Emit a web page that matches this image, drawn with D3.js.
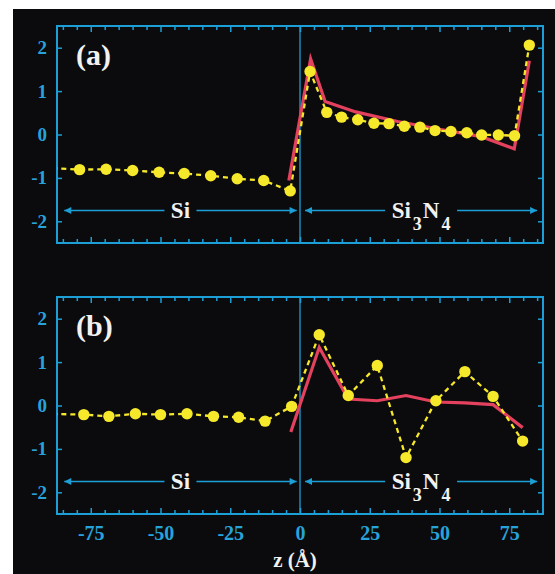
<!DOCTYPE html>
<html>
<head>
<meta charset="utf-8">
<script src="https://cdn.jsdelivr.net/npm/d3@7"></script>
<style>
  body { margin: 0; background: #fff; }
  svg { display: block; }
  svg text { font-family: "Liberation Serif", "Times New Roman", Times, serif !important; font-weight: bold; }
</style>
</head>
<body>
<div id="chart"></div>
<script>
// Axis ticks
const zTicks = [-75, -50, -25, 0, 25, 50, 75];
const yTicks = [-2, -1, 0, 1, 2];

// Panel (a): yellow dots (dashed) and red line
const aDotZ = [-79, -69.5, -60, -50.5, -41.5, -32, -22.5, -13, -3.5,
               3.6, 9.6, 14.9, 20.7, 26.5, 31.9, 37.4, 43, 48.4, 54.1, 59.8, 65.1, 71.1, 76.9, 82.2];
const aDotV = [-0.81, -0.80, -0.83, -0.87, -0.90, -0.95, -1.02, -1.06, -1.30,
               1.45, 0.51, 0.40, 0.34, 0.26, 0.25, 0.19, 0.17, 0.09, 0.07, 0.04, -0.01, -0.01, -0.03, 2.06];
const aEdge = { z: -92, v: -0.76 };   // dashed line runs off the left edge
const aLineZ = [-4, 3.8, 9, 20, 35, 50, 65, 76.8, 82.2];
const aLineV = [-1.06, 1.74, 0.76, 0.52, 0.30, 0.12, -0.05, -0.33, 1.70];

// Panel (b)
const bDotZ = [-77.5, -68.5, -59, -50, -40.5, -31, -22, -12.5, -3,
               6.9, 17.3, 27.7, 38, 48.7, 59.1, 69.2, 79.8];
const bDotV = [-0.21, -0.25, -0.19, -0.21, -0.19, -0.25, -0.27, -0.36, -0.02,
               1.63, 0.23, 0.92, -1.20, 0.11, 0.78, 0.21, -0.82];
const bEdge = { z: -92, v: -0.19 };
const bLineZ = [-3.3, 6.9, 17.3, 27.7, 38, 48.7, 59.1, 69.2, 79.8];
const bLineV = [-0.61, 1.34, 0.15, 0.11, 0.23, 0.08, 0.06, 0.02, -0.51];

// Region arrows (z extents) and labels
const regions = [
    { name: 'Si', sub: [], from: -84.5, to: -1.2 },
    { name: 'Si3N4', sub: ['Si', '3', 'N', '4'], from: 1.8, to: 85 }
];

const W = 555, H = 574;
const CYAN = '#1c9fd6', LABEL = '#27a3dc', YELLOW = '#f6e82a', RED = '#e3415e';
const SERIF = '"Liberation Serif", "Times New Roman", serif';

const svg = d3.select('#chart').append('svg')
    .attr('width', W)
    .attr('height', H);

svg.append('rect')
    .attr('x', 13).attr('y', 9)
    .attr('width', W - 13).attr('height', H - 9)
    .attr('fill', '#0b0b0d');

const defs = svg.append('defs');
defs.append('marker')
    .attr('id', 'arrow')
    .attr('viewBox', '0 0 10 10')
    .attr('refX', 10).attr('refY', 5)
    .attr('markerWidth', 9).attr('markerHeight', 7)
    .attr('markerUnits', 'userSpaceOnUse')
    .attr('orient', 'auto-start-reverse')
    .append('path')
    .attr('d', 'M0,0 L10,5 L0,10 z')
    .attr('fill', CYAN);

const x = d3.scaleLinear().domain([-87.1, 87.1]).range([57, 543]);

function drawPanel(top, tag, dotZ, dotV, edge, lineZ, lineV, showX) {
    const bottom = top + 217;
    const y = d3.scaleLinear().domain([-2.5, 2.5]).range([bottom, top]);
    const g = svg.append('g');
    const clipId = 'clip-' + tag;

    defs.append('clipPath').attr('id', clipId)
        .append('rect')
        .attr('x', x.range()[0]).attr('y', top)
        .attr('width', x.range()[1] - x.range()[0]).attr('height', bottom - top);

    // Minor/major ticks along top and bottom (inward)
    const minor = d3.range(-85, 86, 5);
    const bAxis = g.append('g')
        .attr('transform', `translate(0,${bottom})`)
        .call(d3.axisBottom(x).tickValues(minor).tickSize(-4).tickFormat(''));
    const tAxis = g.append('g')
        .attr('transform', `translate(0,${top})`)
        .call(d3.axisTop(x).tickValues(minor).tickSize(-4).tickFormat(''));
    [bAxis, tAxis].forEach(a => {
        a.select('.domain').remove();
        a.selectAll('line').attr('stroke', CYAN).attr('stroke-width', 1.5)
            .attr('y2', d => (zTicks.includes(d) ? 6 : 4) * (a === bAxis ? -1 : 1));
    });

    // Left / right ticks
    const lAxis = g.append('g')
        .attr('transform', `translate(${x.range()[0]},0)`)
        .call(d3.axisLeft(y).tickValues(yTicks).tickSize(-5).tickPadding(10)
            .tickFormat(d => d < 0 ? '-' + Math.abs(d) : d));
    lAxis.attr('font-family', SERIF);
    lAxis.select('.domain').remove();
    lAxis.selectAll('line').attr('stroke', CYAN).attr('stroke-width', 1.5);
    lAxis.selectAll('text').attr('fill', LABEL).style('font-size', '19px');

    const rAxis = g.append('g')
        .attr('transform', `translate(${x.range()[1]},0)`)
        .call(d3.axisRight(y).tickValues(yTicks).tickSize(-5).tickFormat(''));
    rAxis.select('.domain').remove();
    rAxis.selectAll('line').attr('stroke', CYAN).attr('stroke-width', 1.5);

    if (showX) {
        const xl = g.append('g')
            .attr('transform', `translate(0,${bottom})`)
            .call(d3.axisBottom(x).tickValues(zTicks).tickSize(0).tickPadding(12)
                .tickFormat(d => d < 0 ? '-' + Math.abs(d) : d));
        xl.attr('font-family', SERIF);
        xl.select('.domain').remove();
        xl.selectAll('text').attr('fill', LABEL).style('font-size', '20px');
    }

    // Frame and z=0 divider
    g.append('rect')
        .attr('x', x.range()[0]).attr('y', top)
        .attr('width', x.range()[1] - x.range()[0]).attr('height', bottom - top)
        .attr('fill', 'none').attr('stroke', CYAN).attr('stroke-width', 2);
    g.append('line')
        .attr('x1', x(0)).attr('x2', x(0)).attr('y1', top).attr('y2', bottom)
        .attr('stroke', CYAN).attr('stroke-width', 1.3);

    // Region arrows and labels
    const ay = y(-1.75);
    regions.forEach(r => {
        const cx = (x(r.from) + x(r.to)) / 2;
        const halfGap = r.sub.length ? 36 : 16;
        g.append('line')
            .attr('x1', cx - halfGap).attr('x2', x(r.from))
            .attr('y1', ay).attr('y2', ay)
            .attr('stroke', CYAN).attr('stroke-width', 1.5)
            .attr('marker-end', 'url(#arrow)');
        g.append('line')
            .attr('x1', cx + halfGap).attr('x2', x(r.to))
            .attr('y1', ay).attr('y2', ay)
            .attr('stroke', CYAN).attr('stroke-width', 1.5)
            .attr('marker-end', 'url(#arrow)');
        const t = g.append('text')
            .attr('x', cx).attr('y', ay + 8)
            .attr('text-anchor', 'middle')
            .attr('fill', '#f2f2f2')
            .style('font-size', '23px');
        if (r.sub.length) {
            r.sub.forEach((s, i) => {
                const sp = t.append('tspan').text(s);
                if (i % 2 === 1) sp.attr('dy', 12).attr('dx', 2).style('font-size', '18px');
                else if (i > 0) sp.attr('dy', -12).attr('dx', 1);
            });
        } else {
            t.text(r.name);
        }
    });

    // Panel tag
    g.append('text')
        .attr('x', 76).attr('y', top + 39)
        .attr('fill', '#f2f2f2')
        .style('font-size', '30px')
        .text(`(${tag})`);

    // Red line
    const line = d3.line().x(d => x(d[0])).y(d => y(d[1]));
    g.append('path')
        .datum(lineZ.map((z, i) => [z, lineV[i]]))
        .attr('d', line)
        .attr('fill', 'none')
        .attr('stroke', RED)
        .attr('stroke-width', 3.2)
        .attr('stroke-linejoin', 'miter');

    // Yellow dashed line + dots
    const pts = dotZ.map((z, i) => [z, dotV[i]]);
    g.append('path')
        .datum([[edge.z, edge.v]].concat(pts))
        .attr('clip-path', `url(#${clipId})`)
        .attr('d', line)
        .attr('fill', 'none')
        .attr('stroke', YELLOW)
        .attr('stroke-width', 2.3)
        .attr('stroke-dasharray', '5,4');

    g.selectAll('.dot-' + tag)
        .data(pts)
        .enter().append('circle')
        .attr('class', 'dot-' + tag)
        .attr('cx', d => x(d[0]))
        .attr('cy', d => y(d[1]))
        .attr('r', 5.7)
        .attr('fill', YELLOW);
}

drawPanel(26, 'a', aDotZ, aDotV, aEdge, aLineZ, aLineV, false);
drawPanel(297, 'b', bDotZ, bDotV, bEdge, bLineZ, bLineV, true);

// Axis title
svg.append('text')
    .attr('x', 295).attr('y', 567)
    .attr('text-anchor', 'middle')
    .attr('fill', '#f2f2f2')
    .style('font-size', '21px')
    .text('z (Å)');
</script>
</body>
</html>
